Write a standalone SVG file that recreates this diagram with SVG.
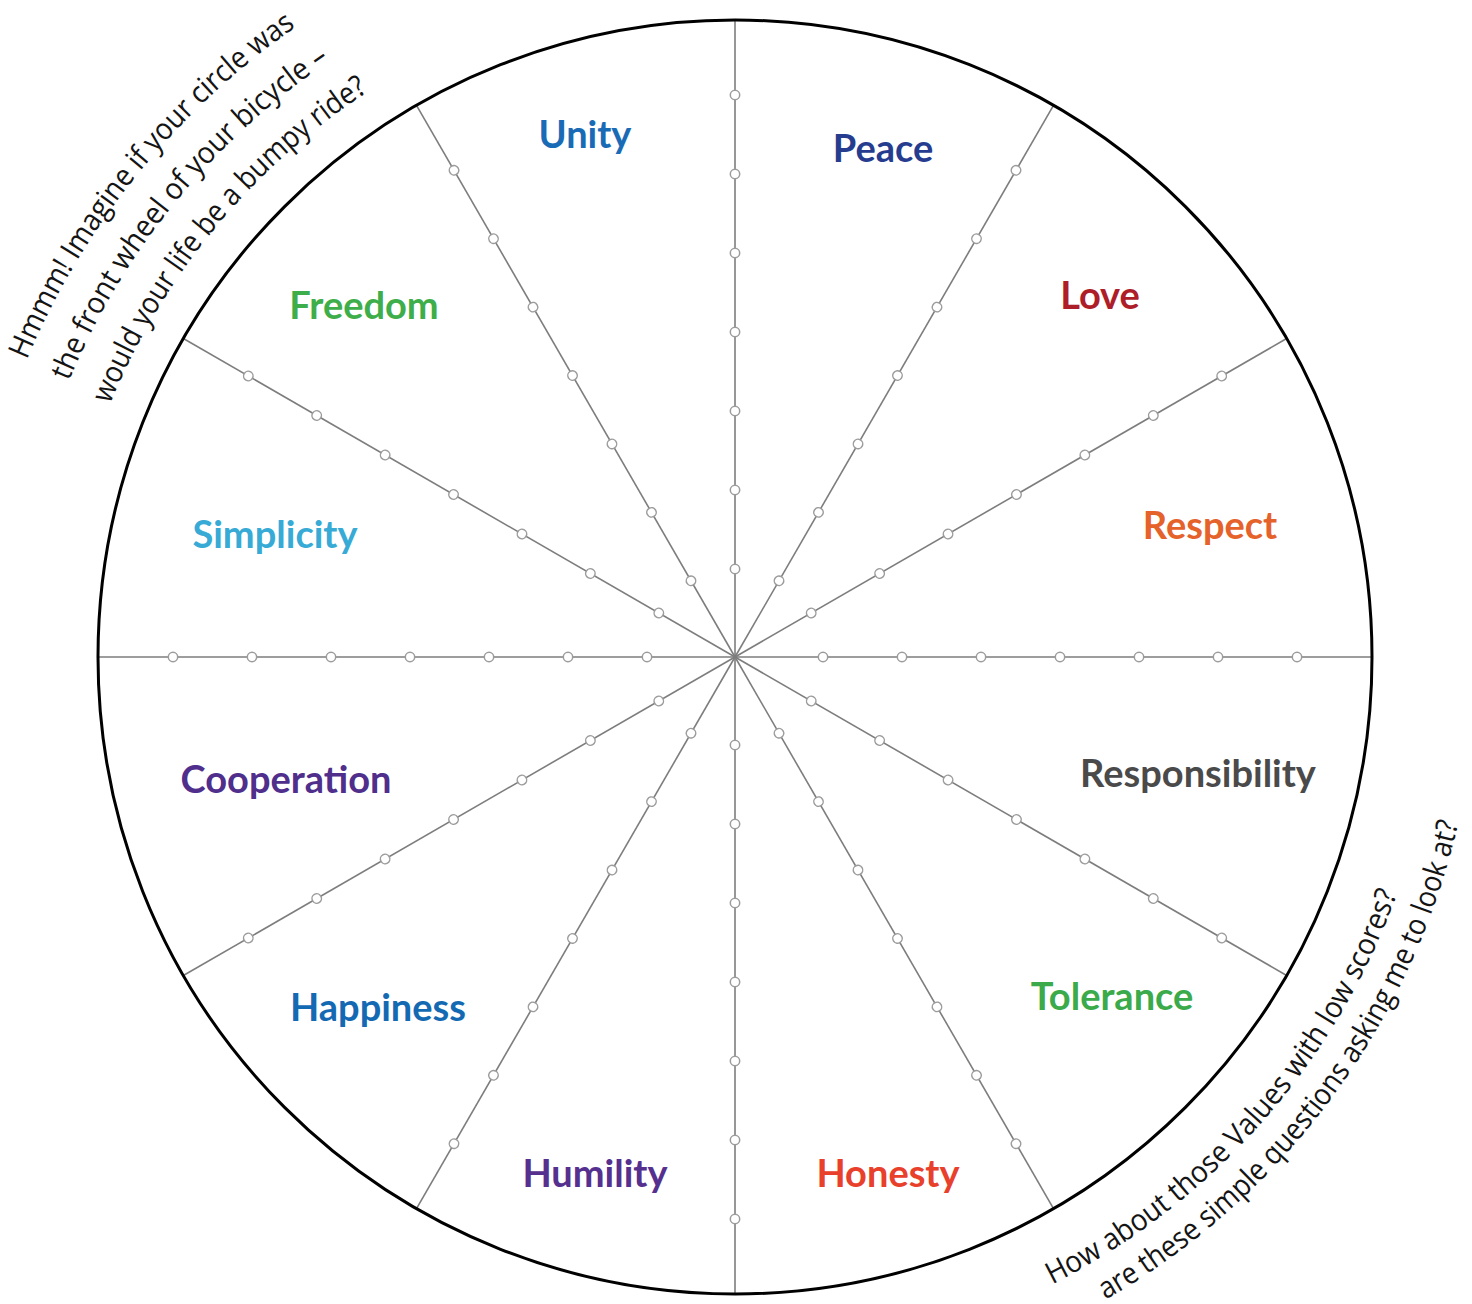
<svg xmlns="http://www.w3.org/2000/svg" xmlns:xlink="http://www.w3.org/1999/xlink" width="1472" height="1304" viewBox="0 0 1472 1304">
  <style>
    .rim { fill: none; stroke: #000; stroke-width: 3; }
    .spoke { stroke: #7d7d7d; stroke-width: 1.6; fill: none; }
    .dot { fill: #fff; stroke: #9c9c9c; stroke-width: 1.5; }
    .value { font-family: Lato, "Liberation Sans", sans-serif; font-weight: 700; font-size: 38px; text-anchor: middle; }
    .note { font-family: "Open Sans", "Liberation Sans", sans-serif; font-size: 30px; fill: #141414; }
  </style>
  <defs>
    <!-- one spoke, pointing along +x from the hub, with seven score marks -->
    <g id="spoke">
      <line class="spoke" x1="0" y1="0" x2="637" y2="0"/>
      <circle class="dot" cx="88" cy="0" r="4.7"/>
      <circle class="dot" cx="167" cy="0" r="4.7"/>
      <circle class="dot" cx="246" cy="0" r="4.7"/>
      <circle class="dot" cx="325" cy="0" r="4.7"/>
      <circle class="dot" cx="404" cy="0" r="4.7"/>
      <circle class="dot" cx="483" cy="0" r="4.7"/>
      <circle class="dot" cx="562" cy="0" r="4.7"/>
    </g>
    <!-- arcs for the curved notes, centred on the hub -->
    <path id="arcTL1" d="M -33 657 A 768 768 0 0 1 735 -111"/>
    <path id="arcTL2" d="M 14 657 A 721 721 0 0 1 735 -64"/>
    <path id="arcTL3" d="M 61 657 A 674 674 0 0 1 735 -17"/>
    <path id="arcBR1" d="M 735 1360 A 703 703 0 0 0 1438 657"/>
    <path id="arcBR2" d="M 735 1399 A 742 742 0 0 0 1477 657"/>
  </defs>

  <rect width="1472" height="1304" fill="#fff"/>

  <!-- wheel spokes -->
  <g id="connectors" transform="translate(735 657)">
    <use xlink:href="#spoke" href="#spoke" transform="rotate(0)"/>
    <use xlink:href="#spoke" href="#spoke" transform="rotate(30)"/>
    <use xlink:href="#spoke" href="#spoke" transform="rotate(60)"/>
    <use xlink:href="#spoke" href="#spoke" transform="rotate(90)"/>
    <use xlink:href="#spoke" href="#spoke" transform="rotate(120)"/>
    <use xlink:href="#spoke" href="#spoke" transform="rotate(150)"/>
    <use xlink:href="#spoke" href="#spoke" transform="rotate(180)"/>
    <use xlink:href="#spoke" href="#spoke" transform="rotate(210)"/>
    <use xlink:href="#spoke" href="#spoke" transform="rotate(240)"/>
    <use xlink:href="#spoke" href="#spoke" transform="rotate(270)"/>
    <use xlink:href="#spoke" href="#spoke" transform="rotate(300)"/>
    <use xlink:href="#spoke" href="#spoke" transform="rotate(330)"/>
  </g>

  <!-- rim -->
  <circle id="rim" class="rim" cx="735" cy="657" r="637"/>

  <!-- value segments -->
  <g id="unity"><text class="value" x="585" y="148" fill="#1a6bb5">Unity</text></g>
  <g id="peace"><text class="value" x="883" y="162" fill="#263d8f">Peace</text></g>
  <g id="love"><text class="value" x="1100" y="309" fill="#ad1e29">Love</text></g>
  <g id="respect"><text class="value" x="1210" y="539" fill="#e5622b">Respect</text></g>
  <g id="responsibility"><text class="value" x="1198" y="787" fill="#4a4a4a">Responsibility</text></g>
  <g id="tolerance"><text class="value" x="1112" y="1010" fill="#3aaa4a">Tolerance</text></g>
  <g id="honesty"><text class="value" x="888" y="1187" fill="#e8402b">Honesty</text></g>
  <g id="humility"><text class="value" x="595" y="1187" fill="#55308e">Humility</text></g>
  <g id="happiness"><text class="value" x="378" y="1021" fill="#1469b3">Happiness</text></g>
  <g id="cooperation"><text class="value" x="286" y="793" fill="#4f2e8c">Cooperation</text></g>
  <g id="simplicity"><text class="value" x="275" y="548" fill="#37aad6">Simplicity</text></g>
  <g id="freedom"><text class="value" x="364" y="319" fill="#3eae4a">Freedom</text></g>

  <!-- curved notes outside the rim -->
  <g id="note-top-left">
    <text class="note" textLength="434" lengthAdjust="spacingAndGlyphs"><textPath xlink:href="#arcTL1" href="#arcTL1" startOffset="305">Hmmm! Imagine if your circle was</textPath></text>
    <text class="note" textLength="419" lengthAdjust="spacingAndGlyphs"><textPath xlink:href="#arcTL2" href="#arcTL2" startOffset="283">the front wheel of your bicycle –</textPath></text>
    <text class="note" textLength="412" lengthAdjust="spacingAndGlyphs"><textPath xlink:href="#arcTL3" href="#arcTL3" startOffset="259">would your life be a bumpy ride?</textPath></text>
  </g>
  <g id="note-bottom-right">
    <text class="note" textLength="534" lengthAdjust="spacingAndGlyphs"><textPath xlink:href="#arcBR1" href="#arcBR1" startOffset="329">How about those Values with low scores?</textPath></text>
    <text class="note" textLength="610" lengthAdjust="spacingAndGlyphs"><textPath xlink:href="#arcBR2" href="#arcBR2" startOffset="388">are these simple questions asking me to look at?</textPath></text>
  </g>
</svg>
